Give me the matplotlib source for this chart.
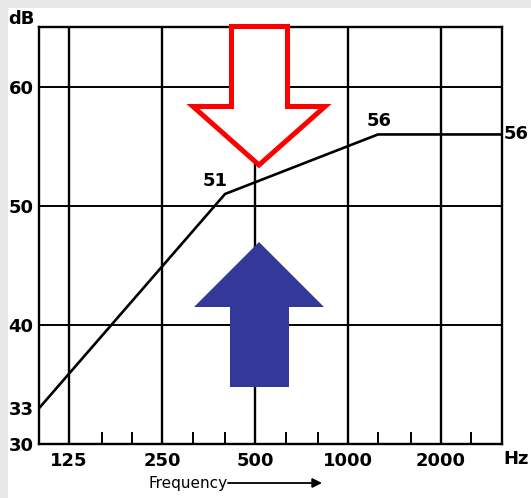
import matplotlib
matplotlib.use("Agg")
import matplotlib.pyplot as plt
from matplotlib.patches import Rectangle, Polygon
from matplotlib.ticker import NullFormatter

# ---- data ----
freq_hz = [100, 400, 1250, 3150]
level_db = [33, 51, 56, 56]
label_idx = [1, 2, 3]  # points whose level is printed

x_major = [125, 250, 500, 1000, 2000]
x_major_labels = ["125", "250", "500", "1000", "2000"]
x_minor = [160, 200, 315, 400, 630, 800, 1250, 1600, 2500]
y_ticks = [30, 33, 40, 50, 60]
y_grid = [40, 50, 60]
x_lim = (100, 3150)
y_lim = (30, 65)

W, H = 531, 498
fig = plt.figure(figsize=(W / 100, H / 100), dpi=100)
fig.patch.set_facecolor("#e8e8e8")
fig.patches.append(Rectangle((8 / W, 0), 1, (H - 8) / H, transform=fig.transFigure,
                             facecolor="white", edgecolor="none", zorder=-10))

def px(x, y):
    """image pixel (top-left origin) -> figure fraction"""
    return x / W, (H - y) / H

left, right, top, bottom = 39, 502, 27.3, 444
ax = fig.add_axes([left / W, (H - bottom) / H, (right - left) / W, (bottom - top) / H])
ax.set_facecolor("none")
ax.set_xscale("log")
ax.set_xlim(*x_lim)
ax.set_ylim(*y_lim)

for s in ax.spines.values():
    s.set_linewidth(1.7)
    s.set_color("black")

for xv in x_major:
    ax.axvline(xv, color="black", lw=1.7, zorder=1)
for yv in y_grid:
    ax.axhline(yv, color="black", lw=1.4, zorder=1)

ax.set_xticks(x_major)
ax.set_xticklabels(x_major_labels)
ax.set_xticks(x_minor, minor=True)
ax.xaxis.set_minor_formatter(NullFormatter())
ax.tick_params(axis="x", which="major", length=0, pad=6, labelsize=13)
ax.tick_params(axis="x", which="minor", direction="in", length=9, width=1.4, color="black")
ax.set_yticks(y_ticks)
ax.tick_params(axis="y", which="both", length=0, pad=4, labelsize=13)
for lab in ax.get_xticklabels() + ax.get_yticklabels():
    lab.set_fontweight("bold")
    lab.set_family("DejaVu Sans")

ax.plot(freq_hz, level_db, color="black", lw=1.9, zorder=3, solid_joinstyle="round")

for i in label_idx:
    xv, yv = freq_hz[i], level_db[i]
    if i == len(freq_hz) - 1:
        ax.annotate(f"{yv}", (xv, yv), xytext=(1, 0), textcoords="offset points",
                    ha="left", va="center", fontsize=13, fontweight="bold",
                    annotation_clip=False)
    elif i == 1:
        ax.annotate(f"{yv}", (xv, yv), xytext=(2, 3), textcoords="offset points",
                    ha="right", va="bottom", fontsize=13, fontweight="bold")
    else:
        ax.annotate(f"{yv}", (xv, yv), xytext=(1, 3), textcoords="offset points",
                    ha="center", va="bottom", fontsize=13, fontweight="bold")

# axis unit labels
fig.text(*px(8, 19), "dB", ha="left", va="center", fontsize=13, fontweight="bold")
fig.text(*px(503, 459), "Hz", ha="left", va="center", fontsize=13, fontweight="bold")
fig.text(*px(149, 483), "Frequency", ha="left", va="center", fontsize=11)
ax.annotate("", xy=(322, H - 483), xycoords="figure pixels",
            xytext=(228, H - 483), textcoords="figure pixels",
            arrowprops=dict(arrowstyle="-|>", lw=1.3, color="black",
                            mutation_scale=14, shrinkA=0, shrinkB=0))

# hollow red arrow (down)
red = [(231.5, 26.5), (287.5, 26.5), (287.5, 106.5), (325, 106.5), (259, 165),
       (193, 106.5), (231.5, 106.5)]
fig.patches.append(Polygon([px(*p) for p in red], closed=True, transform=fig.transFigure,
                           facecolor="white", edgecolor="#ff0000", lw=3.6,
                           joinstyle="miter", zorder=5))
# filled blue arrow (up)
blue = [(259, 242), (324, 307), (289, 307), (289, 387), (230, 387), (230, 307), (194, 307)]
fig.patches.append(Polygon([px(*p) for p in blue], closed=True, transform=fig.transFigure,
                           facecolor="#343899", edgecolor="none", zorder=5))

fig.savefig("out.png", dpi=100, facecolor=fig.get_facecolor())
